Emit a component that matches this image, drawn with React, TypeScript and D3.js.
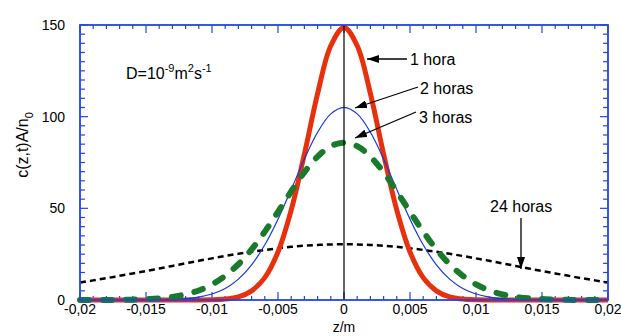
import { useEffect, useRef } from "react"
import * as d3 from "d3"

const zValues = [
  -0.02, -0.019, -0.018, -0.017, -0.016, -0.015, -0.014, -0.013, -0.012, -0.011,
  -0.01, -0.009, -0.008, -0.007, -0.006, -0.005, -0.004, -0.003, -0.002, -0.001,
  0,
  0.001, 0.002, 0.003, 0.004, 0.005, 0.006, 0.007, 0.008, 0.009, 0.01,
  0.011, 0.012, 0.013, 0.014, 0.015, 0.016, 0.017, 0.018, 0.019, 0.02,
]

const hora1 = [
  0, 0, 0, 0, 0, 0, 0, 0, 0, 0,
  0.1, 0.5, 1.7, 5, 12.2, 26.2, 49, 79.6, 112.6, 138.7,
  148.7,
  138.7, 112.6, 79.6, 49, 26.2, 12.2, 5, 1.7, 0.5, 0.1,
  0, 0, 0, 0, 0, 0, 0, 0, 0, 0,
]

const horas2 = [
  0, 0, 0, 0, 0, 0, 0.1, 0.3, 0.7, 1.6,
  3.3, 6.3, 11.4, 19.2, 30.1, 44.1, 60.3, 76.9, 91.5, 101.5,
  105.1,
  101.5, 91.5, 76.9, 60.3, 44.1, 30.1, 19.2, 11.4, 6.3, 3.3,
  1.6, 0.7, 0.3, 0.1, 0, 0, 0, 0, 0, 0,
]

const horas3 = [
  0, 0, 0, 0.1, 0.2, 0.5, 0.9, 1.7, 3.1, 5.2,
  8.5, 13.2, 19.5, 27.6, 37.3, 48.1, 59.2, 69.7, 78.2, 83.9,
  85.8,
  83.9, 78.2, 69.7, 59.2, 48.1, 37.3, 27.6, 19.5, 13.2, 8.5,
  5.2, 3.1, 1.7, 0.9, 0.5, 0.2, 0.1, 0, 0, 0,
]

const horas24 = [
  9.5, 10.7, 11.9, 13.2, 14.5, 15.8, 17.2, 18.6, 20, 21.4,
  22.7, 24, 25.2, 26.3, 27.3, 28.2, 29, 29.6, 30, 30.3,
  30.4,
  30.3, 30, 29.6, 29, 28.2, 27.3, 26.3, 25.2, 24, 22.7,
  21.4, 20, 18.6, 17.2, 15.8, 14.5, 13.2, 11.9, 10.7, 9.5,
]

const xTicks = [-0.02, -0.015, -0.01, -0.005, 0, 0.005, 0.01, 0.015, 0.02]
const xTickLabels = ["-0,02", "-0,015", "-0,01", "-0,005", "0", "0,005", "0,01", "0,015", "0,02"]
const yTicks = [0, 50, 100, 150]

export default function App() {
  const svgRef = useRef<SVGSVGElement | null>(null)

  useEffect(() => {
    if (!svgRef.current) return
    const svg = d3.select(svgRef.current)
    svg.selectAll("*").remove()

    const left = 80
    const right = 608
    const top = 25
    const bottom = 300
    const font = "Liberation Sans, Arial, Helvetica, sans-serif"
    const axisColor = "#2444e6"

    const x = d3.scaleLinear().domain([-0.02, 0.02]).range([left, right])
    const y = d3.scaleLinear().domain([0, 150]).range([bottom, top])

    // arrow marker
    svg
      .append("defs")
      .append("marker")
      .attr("id", "arrow")
      .attr("viewBox", "0 0 12 8")
      .attr("refX", 12)
      .attr("refY", 4)
      .attr("markerWidth", 12)
      .attr("markerHeight", 8)
      .attr("markerUnits", "userSpaceOnUse")
      .attr("orient", "auto")
      .append("path")
      .attr("d", "M0,0 L12,4 L0,8 Z")
      .attr("fill", "#000")

    // minor / major ticks on all four sides, pointing inward
    const xMinor = d3.range(-20, 21).map((i) => i / 1000)
    const yMinor = d3.range(0, 31).map((i) => i * 5)
    const tickG = svg.append("g").attr("stroke", axisColor).attr("stroke-width", 1.2)
    xMinor.forEach((v, i) => {
      const len = i % 5 === 0 ? 8 : 4
      tickG.append("line").attr("x1", x(v)).attr("x2", x(v)).attr("y1", bottom).attr("y2", bottom - len)
      tickG.append("line").attr("x1", x(v)).attr("x2", x(v)).attr("y1", top).attr("y2", top + len)
    })
    yMinor.forEach((v, i) => {
      const len = i % 10 === 0 ? 8 : 5
      tickG.append("line").attr("y1", y(v)).attr("y2", y(v)).attr("x1", left).attr("x2", left + len)
      tickG.append("line").attr("y1", y(v)).attr("y2", y(v)).attr("x1", right).attr("x2", right - len)
    })

    // series
    const line = (vals: number[]) =>
      d3
        .line<number>()
        .x((_, i) => x(zValues[i]))
        .y((d) => y(d))
        .curve(d3.curveCatmullRom)(vals)

    svg
      .append("path")
      .attr("d", line(horas24))
      .attr("fill", "none")
      .attr("stroke", "#000")
      .attr("stroke-width", 2.5)
      .attr("stroke-dasharray", "6 4")

    svg
      .append("path")
      .attr("d", line(hora1))
      .attr("fill", "none")
      .attr("stroke", "#e8300c")
      .attr("stroke-width", 5)
      .attr("stroke-linejoin", "round")

    svg
      .append("path")
      .attr("d", line(horas2))
      .attr("fill", "none")
      .attr("stroke", "#1a36d6")
      .attr("stroke-width", 1.2)

    svg
      .append("path")
      .attr("d", line(horas3))
      .attr("fill", "none")
      .attr("stroke", "#1a7a2c")
      .attr("stroke-width", 6)
      .attr("stroke-linecap", "round")
      .attr("stroke-dasharray", "9 14")

    // vertical line at z = 0
    svg
      .append("line")
      .attr("x1", x(0))
      .attr("x2", x(0))
      .attr("y1", top)
      .attr("y2", bottom)
      .attr("stroke", "#000")
      .attr("stroke-width", 1.2)

    // frame
    svg
      .append("rect")
      .attr("x", left)
      .attr("y", top)
      .attr("width", right - left)
      .attr("height", bottom - top)
      .attr("fill", "none")
      .attr("stroke", axisColor)
      .attr("stroke-width", 1.8)

    // tick labels
    xTicks.forEach((v, i) => {
      svg
        .append("text")
        .attr("x", x(v))
        .attr("y", 314)
        .attr("text-anchor", "middle")
        .attr("font-family", font)
        .attr("font-size", 14)
        .attr("fill", "#000")
        .text(xTickLabels[i])
    })
    yTicks.forEach((v) => {
      svg
        .append("text")
        .attr("x", 65)
        .attr("y", y(v) + 5)
        .attr("text-anchor", "end")
        .attr("font-family", font)
        .attr("font-size", 14)
        .attr("fill", "#000")
        .text(v)
    })

    // axis titles
    svg
      .append("text")
      .attr("x", x(0))
      .attr("y", 332)
      .attr("text-anchor", "middle")
      .attr("font-family", font)
      .attr("font-size", 14)
      .text("z/m")

    const yTitle = svg
      .append("text")
      .attr("transform", "translate(28,145) rotate(-90)")
      .attr("text-anchor", "middle")
      .attr("font-family", font)
      .attr("font-size", 16)
    yTitle.append("tspan").text("c(z,t)A/n")
    yTitle.append("tspan").attr("dy", 5).attr("font-size", 11).text("0")

    // D annotation
    const dText = svg
      .append("text")
      .attr("x", 126)
      .attr("y", 79)
      .attr("font-family", font)
      .attr("font-size", 16)
    dText.append("tspan").text("D=10")
    dText.append("tspan").attr("dy", -7).attr("font-size", 11).text("-9")
    dText.append("tspan").attr("dy", 7).text("m")
    dText.append("tspan").attr("dy", -7).attr("font-size", 11).text("2")
    dText.append("tspan").attr("dy", 7).text("s")
    dText.append("tspan").attr("dy", -7).attr("font-size", 11).text("-1")

    // curve labels with arrows
    const labels = [
      { text: "1 hora", tx: 410, ty: 65, x1: 407, y1: 59, x2: 367, y2: 59 },
      { text: "2 horas", tx: 420, ty: 94, x1: 418, y1: 87, x2: 355, y2: 108 },
      { text: "3 horas", tx: 419, ty: 123, x1: 416, y1: 112, x2: 355, y2: 138 },
      { text: "24 horas", tx: 490, ty: 212, x1: 521, y1: 218, x2: 521, y2: 269 },
    ]
    labels.forEach((l) => {
      svg
        .append("line")
        .attr("x1", l.x1)
        .attr("y1", l.y1)
        .attr("x2", l.x2)
        .attr("y2", l.y2)
        .attr("stroke", "#000")
        .attr("stroke-width", 1.3)
        .attr("marker-end", "url(#arrow)")
      svg
        .append("text")
        .attr("x", l.tx)
        .attr("y", l.ty)
        .attr("font-family", font)
        .attr("font-size", 16)
        .attr("fill", "#000")
        .text(l.text)
    })
  }, [])

  return (
    <div style={{ position: "absolute", left: 0, top: 0 }}>
      <svg ref={svgRef} width={621} height={336} style={{ display: "block", background: "#fff" }}></svg>
    </div>
  )
}
